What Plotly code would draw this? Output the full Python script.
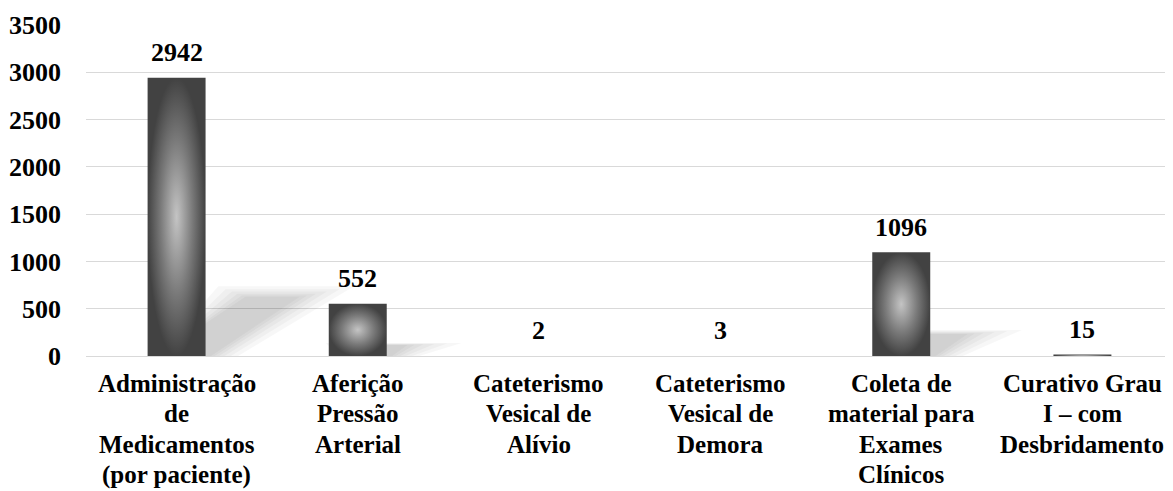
import plotly.graph_objects as go

categories = [
    "Administração<br>de<br>Medicamentos<br>(por paciente)",
    "Aferição<br>Pressão<br>Arterial",
    "Cateterismo<br>Vesical de<br>Alívio",
    "Cateterismo<br>Vesical de<br>Demora",
    "Coleta de<br>material para<br>Exames<br>Clínicos",
    "Curativo Grau<br>I – com<br>Desbridamento",
]
values = [2942, 552, 2, 3, 1096, 15]
y_ticks = [0, 500, 1000, 1500, 2000, 2500, 3000, 3500]

FONT = "Liberation Serif"
FS = 26
FS_CAT = 25
bar_w = 0.32
xs = list(range(len(values)))

fig = go.Figure()

# soft cast shadows, derived from each bar's value
vmax = max(values)
for i, v in zip(xs, values):
    if v < 100:
        continue
    dx = 0.50 * v / vmax
    dy = 0.21 * v
    for grow in [0.16, 0.12, 0.085, 0.055, 0.03, 0.01]:
        x0 = i - bar_w / 2 + 0.05
        x1 = i + bar_w / 2 + grow
        top = dy * (1 + 1.2 * grow)
        fig.add_trace(go.Scatter(
            x=[x0, x1 + 0.02, x1 + dx + grow, x0 + dx - grow, x0],
            y=[0, 0, top, top, 0],
            mode="lines", fill="toself", line=dict(width=0),
            fillcolor="rgba(0,0,0,0.032)", hoverinfo="skip", showlegend=False,
        ))

fig.add_trace(go.Bar(
    x=xs, y=values, width=bar_w,
    marker=dict(color="#4a4a4a", opacity=0, line=dict(width=0)),
    hoverinfo="skip", showlegend=False,
))
# radial gradient fill for each bar, built from the data values
for i, v in zip(xs, values):
    fig.add_trace(go.Scatter(
        x=[i - bar_w / 2, i + bar_w / 2, i + bar_w / 2, i - bar_w / 2, i - bar_w / 2],
        y=[0, 0, v, v, 0],
        mode="lines", fill="toself", line=dict(width=0),
        fillgradient=dict(type="radial",
                          colorscale=[[0, "#c4c4c4"], [0.55, "#7a7a7a"], [1, "#424242"]]),
        hoverinfo="skip", showlegend=False,
    ))

# value labels
for i, v in zip(xs, values):
    fig.add_annotation(x=i, y=v, text=f"<b>{v}</b>", showarrow=False,
                       yanchor="middle", yshift=25,
                       font=dict(family=FONT, size=FS, color="black"))

# category labels, one annotation per line (tighter line spacing than tick labels)
for i, c in zip(xs, categories):
    for k, line in enumerate(c.split("<br>")):
        fig.add_annotation(x=i, y=0, text=f"<b>{line}</b>", showarrow=False,
                           yanchor="middle", xanchor="center",
                           yshift=-27 - 30.5 * k,
                           font=dict(family=FONT, size=FS_CAT, color="black"))

fig.update_layout(
    width=1165, height=483,
    margin=dict(l=78, r=0, t=17, b=135, autoexpand=False),
    plot_bgcolor="white", paper_bgcolor="white",
    font=dict(family=FONT, size=FS, color="black"),
)
fig.update_xaxes(
    tickmode="array", tickvals=xs, showticklabels=False,
    range=[-0.5, len(values) - 0.5], showgrid=False, zeroline=False,
    showline=False, ticks="", automargin=False,
)
fig.update_yaxes(
    range=[0, 3500], tickmode="array", tickvals=y_ticks,
    ticktext=[f"<b>{t}</b>" for t in y_ticks],
    showgrid=True, gridcolor="#d9d9d9", gridwidth=1,
    zeroline=True, zerolinecolor="#d9d9d9", zerolinewidth=1,
    showline=False, ticks="", ticklabelstandoff=24, automargin=False,
    tickfont=dict(family=FONT, size=FS, color="black"),
)

fig.write_html("out.html")
